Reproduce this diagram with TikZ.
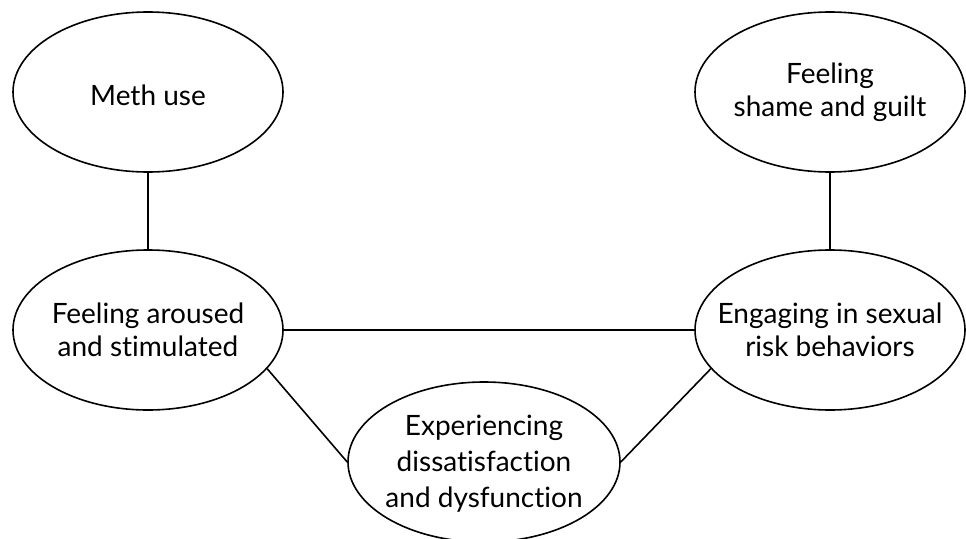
\documentclass[tikz,border=0pt]{standalone}
\usepackage{fontspec}
\setmainfont{Lato}[Ligatures={NoCommon}]
\usetikzlibrary{shapes.geometric}
\begin{document}
\begin{tikzpicture}[x=1pt,y=-1pt,
  oval/.style={ellipse,draw,line width=1.6pt,minimum width=270pt,minimum height=160pt,inner sep=0pt},
  txt/.style={align=center,font=\fontsize{28}{33}\selectfont},
  link/.style={line width=1.6pt}]
\useasboundingbox (0,0) rectangle (966,538);
\node[oval,label={[txt,yshift=-3pt]center:Meth use}] (meth) at (148,92) {};
\node[oval,label={[txt]center:Feeling\\shame and guilt}] (shame) at (830,92) {};
\node[oval,label={[txt]center:Feeling aroused\\and stimulated}] (arousal) at (148,330) {};
\node[oval,label={[txt]center:Engaging in sexual\\risk behaviors}] (risk) at (830,330) {};
\node[oval,minimum width=272pt,label={[txt,font=\fontsize{28}{36}\selectfont,yshift=-2pt]center:Experiencing\\dissatisfaction\\and dysfunction}] (dys) at (484,462) {};
\draw[link] (meth) -- (arousal);
\draw[link] (shame) -- (risk);
\draw[link] (arousal) -- (risk);
\draw[link] (arousal.-18) -- (dys.180);
\draw[link] (dys.0) -- (risk.198);
\end{tikzpicture}
\end{document}
